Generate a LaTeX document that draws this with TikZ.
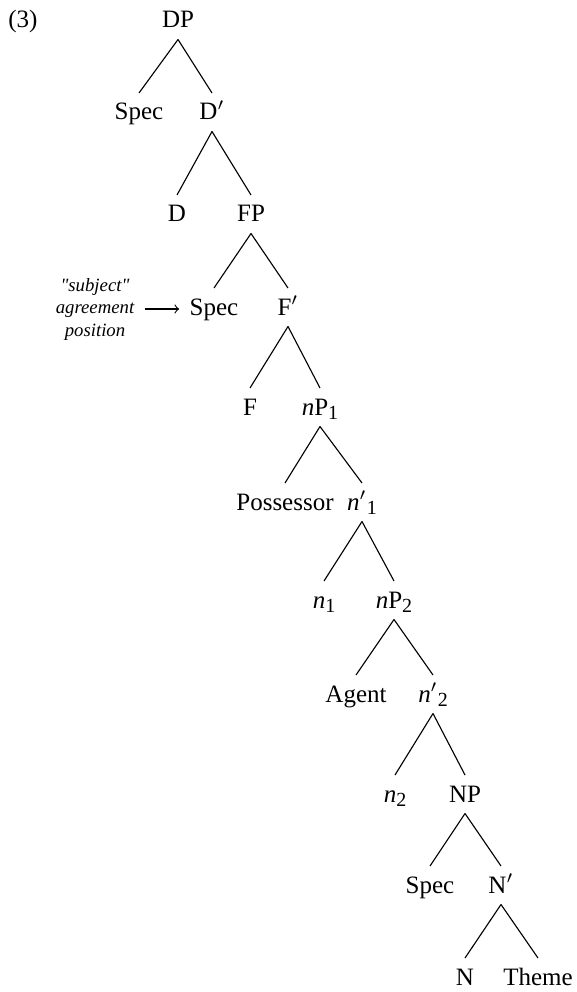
\documentclass[tikz,border=0pt]{standalone}
\usepackage{fontspec}
\setmainfont{Liberation Serif}
\newfontfamily\notefont{Liberation Serif}
\usepackage{tikz}
\newcommand{\lowidx}[1]{\raisebox{-0.35ex}{\footnotesize #1}}

\begin{document}
\begin{tikzpicture}[x=0.4pt,y=-0.4pt,
    lbl/.style={anchor=base,inner xsep=1pt,inner ysep=2pt,text height=8.6pt,text depth=2.4pt},
    branch/.style={line width=0.45pt},
    note/.style={align=center,inner sep=2pt,font=\notefont\fontsize{7.5}{9}\selectfont\itshape}]
    \useasboundingbox (0,0) rectangle (577,992);

    % Example number
    \node[anchor=base] (exnum) at (23,28) {(3)};

    % Tree nodes, row by row
    \node[lbl] (dp) at (178,28) {DP};
    \node[lbl] (specd) at (139,120) {Spec};
    \node[lbl] (dbar) at (212,120) {D$'$};
    \node[lbl] (d) at (177,222) {D};
    \node[lbl] (fp) at (251,222) {FP};
    \node[lbl] (specf) at (214,315) {Spec};
    \node[lbl] (fbar) at (288,315) {F$'$};
    \node[lbl] (f) at (250,415) {F};
    \node[lbl] (npone) at (320,415) {\textit{n}P\lowidx{1}};
    \node[lbl] (poss) at (285,510) {Possessor};
    \node[lbl] (nbarone) at (362,510) {\textit{n}$'$\lowidx{1}};
    \node[lbl] (none) at (324,608) {\textit{n}\lowidx{1}};
    \node[lbl] (nptwo) at (394,608) {\textit{n}P\lowidx{2}};
    \node[lbl] (agent) at (356,702) {Agent};
    \node[lbl] (nbartwo) at (433,702) {\textit{n}$'$\lowidx{2}};
    \node[lbl] (ntwo) at (395,802) {\textit{n}\lowidx{2}};
    \node[lbl] (np) at (465,802) {NP};
    \node[lbl] (specn) at (430,893) {Spec};
    \node[lbl] (nbar) at (501,893) {N$'$};
    \node[lbl] (n) at (465,985) {N};
    \node[lbl] (theme) at (538,985) {Theme};

    % Branches
    \foreach \p/\c in {dp/specd, dp/dbar, dbar/d, dbar/fp, fp/specf, fp/fbar,
        fbar/f, fbar/npone, npone/poss, npone/nbarone, nbarone/none, nbarone/nptwo,
        nptwo/agent, nptwo/nbartwo, nbartwo/ntwo, nbartwo/np, np/specn, np/nbar,
        nbar/n, nbar/theme} {
        \draw[branch] (\p.south) -- (\c.north);
    }

    % Annotation
    \node[note] (agr) at (95,309) {"subject"\\agreement\\position};
    \draw[branch,->,shorten <=2pt,shorten >=3pt] (agr.east) -- (agr.east -| specf.west);
\end{tikzpicture}
\end{document}
